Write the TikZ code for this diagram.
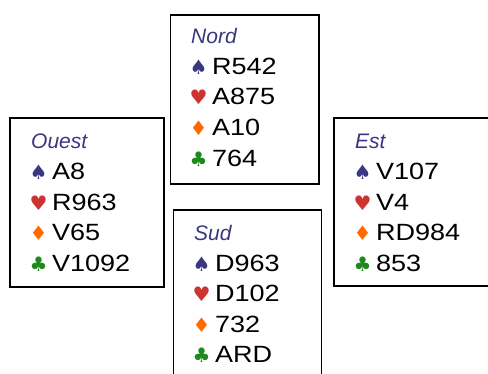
\documentclass[tikz,border=0pt]{standalone}
\usepackage{fontspec}
\setmainfont{Liberation Sans}
\newfontfamily\cardfont[FakeStretch=1.15]{Liberation Sans}
\newfontfamily\suitfont{DejaVu Sans}
\definecolor{spadec}{HTML}{3B3680}
\definecolor{heartc}{HTML}{CC3333}
\definecolor{diamc}{HTML}{FF6A00}
\definecolor{clubc}{HTML}{1E8A1E}
\newcommand\suitsym[2]{{\suitfont\fontsize{20}{20}\selectfont\color{#1}#2}\hspace{4.5pt}}
\newcommand\handset[7]{%
  % #1 name, #2 x, #3 title baseline y, #4 title, #5-#7 first holdings
  \node[handtitle] (#1-t) at (#2+1.5,#3) {#4};
  \node[handline] (#1-s) at (#2,#3-30.5) {\suitsym{spadec}{♠}#5};
  \node[handline] (#1-h) at (#2,#3-61) {\suitsym{heartc}{♥}#6};
  \node[handline] (#1-d) at (#2,#3-91.5) {\suitsym{diamc}{♦}#7};
}
\tikzset{
  x=1pt, y=1pt,
  handbox/.style={draw=black, line width=1.6pt, anchor=north west, inner sep=0pt},
  handtitle/.style={anchor=base west, inner sep=0pt, text=spadec, font=\fontsize{21}{21}\selectfont\itshape},
  handline/.style={anchor=base west, inner sep=0pt, font=\cardfont\fontsize{23.5}{23.5}\selectfont},
}
\begin{document}
\begin{tikzpicture}
\useasboundingbox (0,0) rectangle (488,373);
\clip (0,0) rectangle (488,373);
\fill[white] (0,0) rectangle (488,373);
% boxes
\node[handbox, minimum width=148.5pt, minimum height=169pt] (nordbox) at (169.5,359) {};
\node[handbox, minimum width=154pt, minimum height=169pt] (ouestbox) at (9,256) {};
\node[handbox, minimum width=160pt, minimum height=168pt] (estbox) at (333,256) {};
\node[handbox, minimum width=148pt, minimum height=170pt] (sudbox) at (172.5,164) {};
% Nord
\handset{nord}{189.5}{329}{Nord}{R542}{A875}{A10}
\node[handline] (nord-c) at (189.5,329-122) {\suitsym{clubc}{♣}764};
% Ouest
\handset{ouest}{29.5}{224}{Ouest}{A8}{R963}{V65}
\node[handline] (ouest-c) at (29.5,224-122) {\suitsym{clubc}{♣}V1092};
% Est
\handset{est}{353.5}{224}{Est}{V107}{V4}{RD984}
\node[handline] (est-c) at (353.5,224-122) {\suitsym{clubc}{♣}853};
% Sud
\handset{sud}{192.5}{132.5}{Sud}{D963}{D102}{732}
\node[handline] (sud-c) at (192.5,132.5-122) {\suitsym{clubc}{♣}ARD};
\end{tikzpicture}
\end{document}
